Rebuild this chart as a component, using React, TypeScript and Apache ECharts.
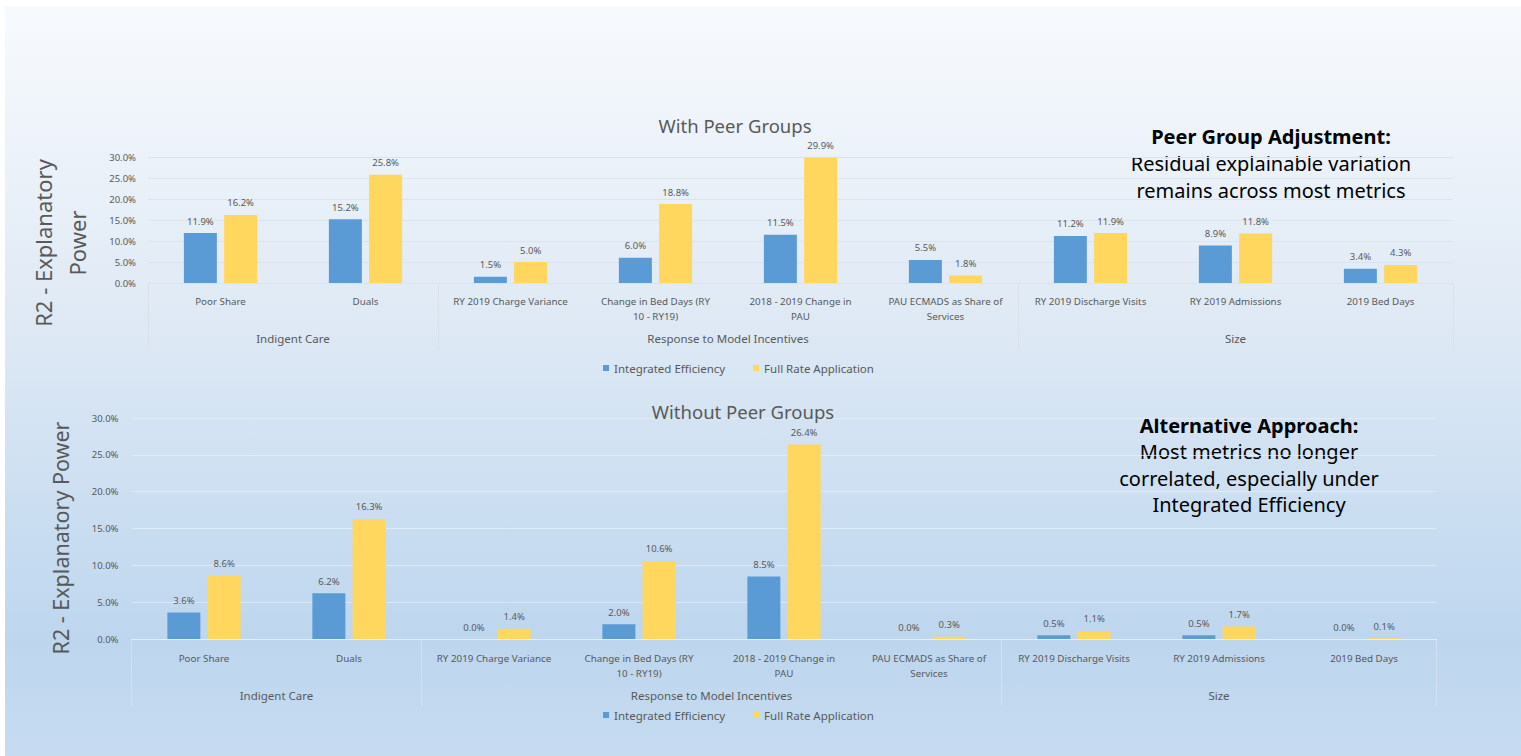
import React, { useEffect, useRef } from "react";
import * as echarts from "echarts";

// ---------- data ----------
const categories = [
  "Poor Share",
  "Duals",
  "RY 2019 Charge Variance",
  "Change in Bed Days (RY\n10 - RY19)",
  "2018 - 2019 Change in\nPAU",
  "PAU ECMADS as Share of\nServices",
  "RY 2019 Discharge Visits",
  "RY 2019 Admissions",
  "2019 Bed Days",
];
const groupNames = ["Indigent Care", "Response to Model Incentives", "Size"];
const groupSizes = [2, 4, 3];
const seriesNames = ["Integrated Efficiency", "Full Rate Application"];

const withPeerIE = [11.9, 15.2, 1.5, 6.0, 11.5, 5.5, 11.2, 8.9, 3.4];
const withPeerFRA = [16.2, 25.8, 5.0, 18.8, 29.9, 1.8, 11.9, 11.8, 4.3];
const withoutPeerIE = [3.6, 6.2, 0.0, 2.0, 8.5, 0.0, 0.5, 0.5, 0.0];
const withoutPeerFRA = [8.6, 16.3, 1.4, 10.6, 26.4, 0.3, 1.1, 1.7, 0.1];

const yMin = 0;
const yMax = 30;
const yStep = 5;

const panelTitles = ["With Peer Groups", "Without Peer Groups"];
const yAxisTitles = ["R2 - Explanatory\nPower", "R2 - Explanatory Power"];
const noteTop = ["Peer Group Adjustment:", "Residual explainable variation", "remains across most metrics"];
const noteBottom = ["Alternative Approach:", "Most metrics no longer", "correlated, especially under", "Integrated Efficiency"];

// ---------- styling ----------
const FONT = "'Noto Sans', 'Open Sans', sans-serif";
const GRAY = "#595959";
const BLUE = "#5B9BD5";
const YELLOW = "#FFD75E";

const groupStarts: number[] = [];
const groupCenters: number[] = [];
{
  let s = 0;
  groupSizes.forEach((n) => {
    groupStarts.push(s);
    groupCenters.push(s + n / 2);
    s += n;
  });
}

function pct(v: number) {
  return v.toFixed(1) + "%";
}

export default function App() {
  const ref = useRef<HTMLDivElement>(null);

  useEffect(() => {
    if (!ref.current) return;
    const chart = echarts.init(ref.current, undefined, { renderer: "svg" });

    const grids = [
      { left: 148, width: 1305, top: 157, height: 126 },
      { left: 131.5, width: 1305, top: 418, height: 221 },
    ];
    const gridColors = ["#dce3ea", "rgba(232,240,249,0.7)"];
    const sepColors = ["#d9e0e8", "rgba(232,240,249,0.45)"];

    const xAxis: any[] = [];
    const yAxis: any[] = [];
    const series: any[] = [];
    const datasets = [
      [withPeerIE, withPeerFRA],
      [withoutPeerIE, withoutPeerFRA],
    ];

    grids.forEach((g, gi) => {
      xAxis.push({
        type: "category",
        gridIndex: gi,
        data: categories,
        position: "bottom",
        axisLine: { show: true, lineStyle: { color: gridColors[gi] } },
        axisTick: {
          show: true,
          interval: (i: number) => groupStarts.includes(i),
          length: 67,
          lineStyle: { color: sepColors[gi] },
        },
        axisLabel: {
          interval: 0,
          color: GRAY,
          fontFamily: FONT,
          fontSize: 9.8,
          lineHeight: 15,
          margin: gi === 0 ? 11 : 12,
        },
      });
      xAxis.push({
        type: "value",
        gridIndex: gi,
        min: 0,
        max: categories.length,
        interval: 0.5,
        position: "bottom",
        axisLine: { show: false },
        axisTick: { show: false },
        splitLine: { show: false },
        axisLabel: {
          color: GRAY,
          fontFamily: FONT,
          fontSize: 11.5,
          margin: gi === 0 ? 49 : 50,
          formatter: (v: number) => {
            const i = groupCenters.findIndex((c) => Math.abs(c - v) < 1e-6);
            return i >= 0 ? groupNames[i] : "";
          },
        },
      });
      yAxis.push({
        type: "value",
        gridIndex: gi,
        min: yMin,
        max: yMax,
        interval: yStep,
        axisLine: { show: false },
        axisTick: { show: false },
        splitLine: { show: true, lineStyle: { color: gridColors[gi] } },
        axisLabel: {
          color: GRAY,
          fontFamily: FONT,
          fontSize: 9.5,
          margin: gi === 0 ? 12 : 13,
          formatter: (v: number) => pct(v),
        },
      });
      datasets[gi].forEach((vals, si) => {
        series.push({
          type: "bar",
          name: seriesNames[si],
          xAxisIndex: gi * 2,
          yAxisIndex: gi,
          data: vals,
          barWidth: 33,
          barGap: "22%",
          itemStyle: { color: si === 0 ? BLUE : YELLOW },
          label: {
            show: true,
            position: "top",
            distance: 7,
            color: GRAY,
            fontFamily: FONT,
            fontSize: 9.5,
            formatter: (p: any) => pct(p.value),
          },
        });
      });
    });

    const legendCommon = {
      data: seriesNames,
      icon: "rect",
      itemWidth: 6,
      itemHeight: 6,
      itemGap: 28,
      textStyle: { color: GRAY, fontFamily: FONT, fontSize: 11.5 },
      selectedMode: false,
    };

    const titleStyle = { color: GRAY, fontFamily: FONT, fontSize: 18.5, fontWeight: "normal" };

    const option: any = {
      animation: false,
      title: [
        { text: panelTitles[0], left: 730, top: 111, textAlign: "center", textStyle: titleStyle },
        { text: panelTitles[1], left: 738, top: 397, textAlign: "center", textStyle: titleStyle },
      ],
      legend: [
        { ...legendCommon, left: 598, top: 357 },
        { ...legendCommon, left: 598, top: 704 },
      ],
      grid: grids,
      xAxis,
      yAxis,
      series,
      graphic: [
        {
          type: "rect",
          z: -100,
          silent: true,
          shape: { x: 5, y: 6, width: 1516, height: 750 },
          style: {
            fill: new echarts.graphic.LinearGradient(0, 0, 0, 1, [
              { offset: 0, color: "#f7fafd" },
              { offset: 0.4, color: "#e0eaf5" },
              { offset: 0.85, color: "#bdd6ee" },
              { offset: 1, color: "#c6dbf0" },
            ]),
          },
        },
        {
          type: "text",
          x: 60,
          y: 243,
          rotation: Math.PI / 2,
          silent: true,
          style: {
            text: yAxisTitles[0],
            fill: GRAY,
            fontFamily: FONT,
            fontSize: 22,
            lineHeight: 34,
            align: "center",
            verticalAlign: "middle",
          },
        },
        {
          type: "text",
          x: 60,
          y: 538,
          rotation: Math.PI / 2,
          silent: true,
          style: {
            text: yAxisTitles[1],
            fill: GRAY,
            fontFamily: FONT,
            fontSize: 21.5,
            align: "center",
            verticalAlign: "middle",
          },
        },
        {
          type: "text",
          x: 1271,
          y: 163,
          silent: true,
          style: {
            text: "{b|" + noteTop[0] + "}\n" + noteTop.slice(1).map((t) => "{n|" + t + "}").join("\n"),
            align: "center",
            verticalAlign: "middle",
            rich: {
              b: { fontFamily: FONT, fontSize: 20, fontWeight: "bold", color: "#1f1f1f", lineHeight: 27, align: "center" },
              n: { fontFamily: FONT, fontSize: 20, color: "#333333", lineHeight: 27, align: "center" },
            },
          },
        },
        {
          type: "text",
          x: 1249,
          y: 465,
          silent: true,
          style: {
            text: "{b|" + noteBottom[0] + "}\n" + noteBottom.slice(1).map((t) => "{n|" + t + "}").join("\n"),
            align: "center",
            verticalAlign: "middle",
            rich: {
              b: { fontFamily: FONT, fontSize: 20, fontWeight: "bold", color: "#1f1f1f", lineHeight: 26.5, align: "center" },
              n: { fontFamily: FONT, fontSize: 20, color: "#333333", lineHeight: 26.5, align: "center" },
            },
          },
        },
      ],
    };

    chart.setOption(option);
    return () => chart.dispose();
  }, []);

  return (
    <div
      ref={ref}
      style={{ position: "fixed", left: 0, top: 0, width: 1521, height: 756, background: "#ffffff" }}
    />
  );
}
